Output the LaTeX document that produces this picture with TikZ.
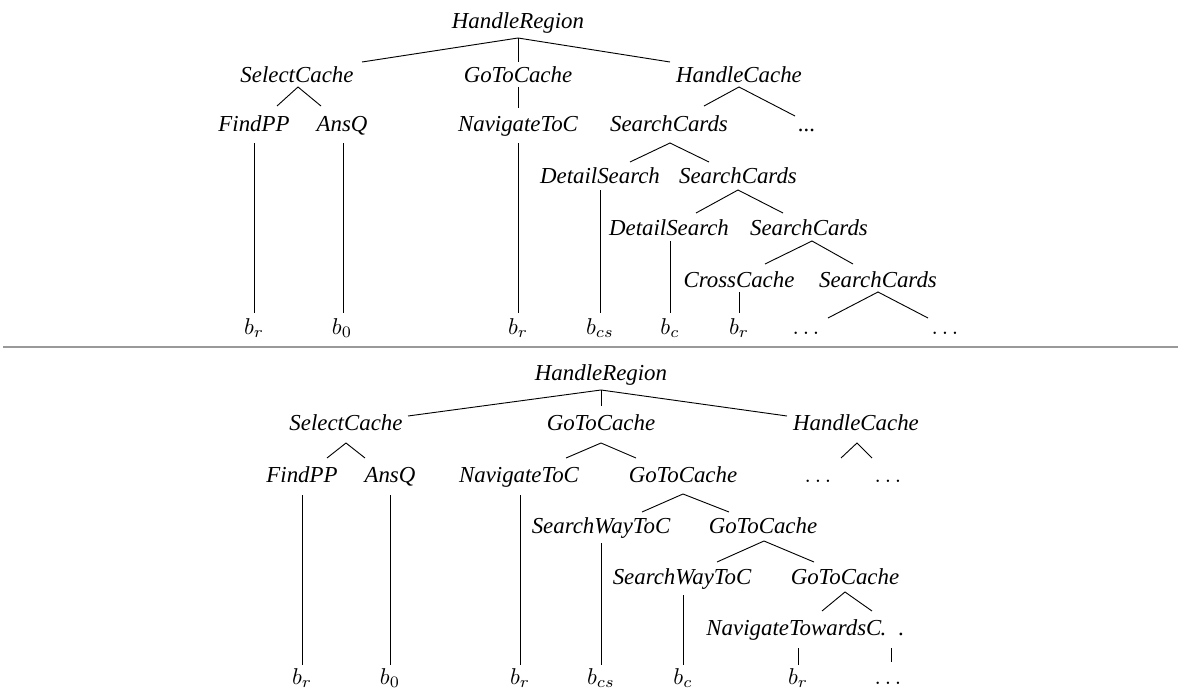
\documentclass[tikz,border=0pt]{standalone}
\usepackage{fontspec}
\setmainfont{Liberation Serif}
\begin{document}
\begin{tikzpicture}[x=0.4373pt,y=-0.4373pt,
  lab/.style={inner sep=0pt,anchor=base,font=\itshape},
  leaf/.style={inner sep=0pt,anchor=base},
  edge/.style={line width=0.4pt,black},
  sep/.style={line width=0.9pt,black!40}]
\useasboundingbox (0,0) rectangle (1178,688);
\clip (0,0) rectangle (1178,688);
% ---------- top tree ----------
\node[lab] (t0) at (518,28) {HandleRegion};
\node[lab] (t1) at (297,82) {SelectCache};
\node[lab] (t2) at (518,82) {GoToCache};
\node[lab] (t3) at (739,82) {HandleCache};
\node[lab] (t4) at (254,131) {FindPP};
\node[lab] (t5) at (342,131) {AnsQ};
\node[lab] (t6) at (518,131) {NavigateToC};
\node[lab] (t7) at (669,131) {SearchCards};
\node[lab] (t8) at (807,131) {...};
\node[lab] (t9) at (600,183) {DetailSearch};
\node[lab] (t10) at (738,183) {SearchCards};
\node[lab] (t11) at (669,235) {DetailSearch};
\node[lab] (t12) at (809,235) {SearchCards};
\node[lab] (t13) at (739,287) {CrossCache};
\node[lab] (t14) at (878,287) {SearchCards};
\node[leaf] (tl1) at (254,334) {$b_r$};
\node[leaf] (tl2) at (342,334) {$b_0$};
\node[leaf] (tl3) at (518,334) {$b_r$};
\node[leaf] (tl4) at (600,334) {$b_{cs}$};
\node[leaf] (tl5) at (670,334) {$b_c$};
\node[leaf] (tl6) at (739,334) {$b_r$};
\node[leaf] (tl7) at (806,334) {$\dots$};
\node[leaf] (tl8) at (945,334) {$\dots$};
\draw[edge] (362,62) -- (518,38) -- (670,62);
\draw[edge] (518,38) -- (518,62);
\draw[edge] (277,106) -- (298,87) -- (321,106);
\draw[edge] (518,87) -- (518,108);
\draw[edge] (704,106) -- (739,87) -- (795,116);
\draw[edge] (254,143) -- (254,313);
\draw[edge] (343,143) -- (343,313);
\draw[edge] (518,143) -- (518,313);
\draw[edge] (630,162) -- (670,143) -- (709,162);
\draw[edge] (600,190) -- (600,313);
\draw[edge] (696,213) -- (738,190) -- (783,213);
\draw[edge] (670,241) -- (670,313);
\draw[edge] (765,264) -- (812,241) -- (853,264);
\draw[edge] (739,292) -- (739,313);
\draw[edge] (828,318) -- (878,292) -- (928,318);
% ---------- separator ----------
\draw[sep] (3,347) -- (1178,347);
% ---------- bottom tree ----------
\node[lab] (b0) at (601,380) {HandleRegion};
\node[lab] (b1) at (346,430) {SelectCache};
\node[lab] (b2) at (601,430) {GoToCache};
\node[lab] (b3) at (856,430) {HandleCache};
\node[lab] (b4) at (302,482) {FindPP};
\node[lab] (b5) at (390,482) {AnsQ};
\node[lab] (b6) at (519,482) {NavigateToC};
\node[lab] (b7) at (683,482) {GoToCache};
\node[leaf] (b8) at (818,482) {$\dots$};
\node[leaf] (b9) at (888,482) {$\dots$};
\node[lab] (b10) at (601,533) {SearchWayToC};
\node[lab] (b11) at (763,533) {GoToCache};
\node[lab] (b12) at (682,584) {SearchWayToC};
\node[lab] (b13) at (845,584) {GoToCache};
\node[lab,anchor=base west] (b14) at (706,635) {NavigateTowardsC\upshape\kern-0.6pt.\kern5.4pt.};
\node[leaf] (bl1) at (302,684) {$b_r$};
\node[leaf] (bl2) at (390,684) {$b_0$};
\node[leaf] (bl3) at (520,684) {$b_r$};
\node[leaf] (bl4) at (601,684) {$b_{cs}$};
\node[leaf] (bl5) at (683,684) {$b_c$};
\node[leaf] (bl6) at (798,684) {$b_r$};
\node[leaf] (bl7) at (888,684) {$\dots$};
\draw[edge] (408,416) -- (601,390) -- (787,416);
\draw[edge] (601,390) -- (601,406);
\draw[edge] (327,458) -- (346,443) -- (365,458);
\draw[edge] (566,458) -- (601,443) -- (636,458);
\draw[edge] (841,458) -- (857,443) -- (872,458);
\draw[edge] (302,495) -- (302,665);
\draw[edge] (390,495) -- (390,665);
\draw[edge] (520,495) -- (520,665);
\draw[edge] (642,512) -- (683,494) -- (729,512);
\draw[edge] (601,543) -- (601,665);
\draw[edge] (717,562) -- (764,541) -- (814,562);
\draw[edge] (683,595) -- (683,665);
\draw[edge] (822,611) -- (845,592) -- (872,611);
\draw[edge] (798,648) -- (798,665);
\draw[edge] (891,648) -- (891,662);
\end{tikzpicture}
\end{document}
